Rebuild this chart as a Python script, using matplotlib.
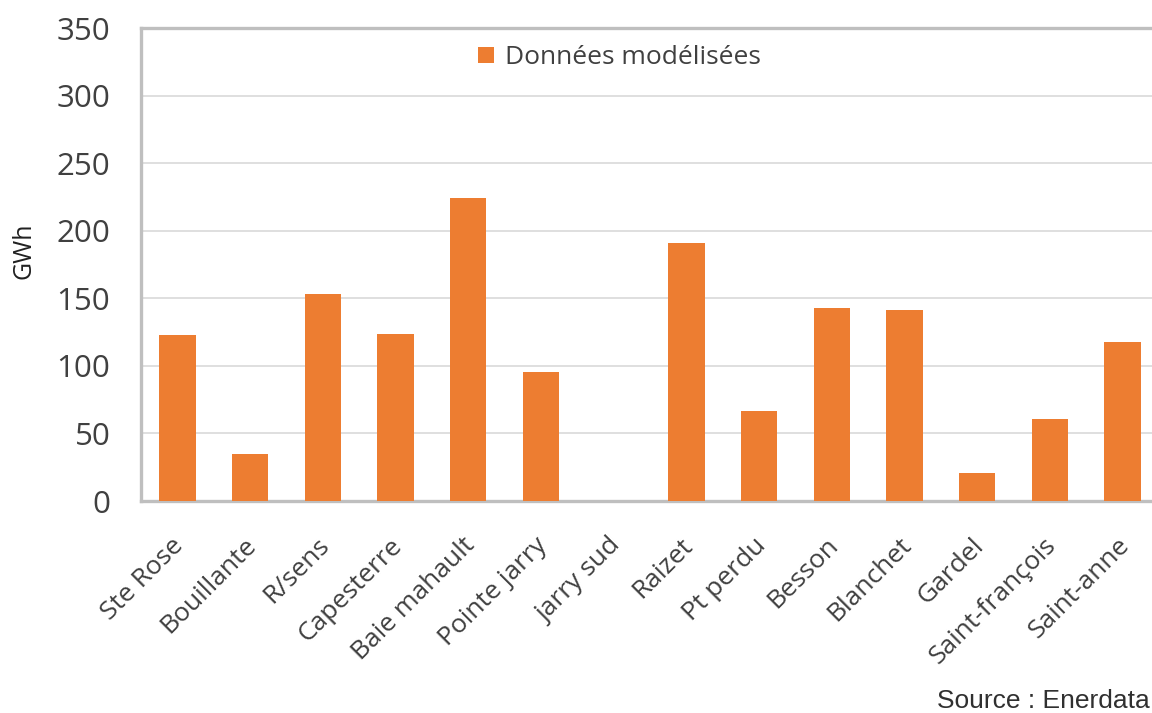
import matplotlib.pyplot as plt
import matplotlib.transforms as mtransforms
import numpy as np

# Consommation modélisée par poste (GWh)
postes = ["Ste Rose", "Bouillante", "R/sens", "Capesterre", "Baie mahault",
          "Pointe jarry", "jarry sud", "Raizet", "Pt perdu", "Besson",
          "Blanchet", "Gardel", "Saint-françois", "Saint-anne"]
gwh = [122.5, 34.5, 153.5, 123.5, 224.5, 95.5, 0, 191, 66.5, 142.5,
       141.5, 20.5, 61, 117.5]
yticks = [0, 50, 100, 150, 200, 250, 300, 350]

ORANGE = "#ED7D31"
GRID = "#D9D9D9"
SPINE = "#BFBFBF"
TEXT = "#404040"

plt.rcParams['font.family'] = ['Open Sans', 'DejaVu Sans']

fig = plt.figure(figsize=(11.52, 7.13), dpi=100)
ax = fig.add_axes([0.1224, 0.2973, 0.8837, 0.6634])

x = np.arange(len(postes))
ax.bar(x, gwh, width=0.5, color=ORANGE, label="Données modélisées", zorder=3)

ax.set_xlim(-0.5, len(postes) - 0.5)
ax.set_ylim(0, 350)
ax.set_yticks(yticks)
ax.set_yticklabels([str(v) for v in yticks], fontsize=22.5, color=TEXT)
ax.set_xticks(x)
ax.set_xticklabels(postes, rotation=45, ha='right', va='top',
                   rotation_mode='anchor', fontsize=19, color=TEXT)
ax.tick_params(axis='both', length=0)
ax.tick_params(axis='y', pad=22)
ax.tick_params(axis='x', pad=23)

# libellés légèrement décalés vers la gauche
shift = mtransforms.ScaledTranslation(-6 / 100, 0, fig.dpi_scale_trans)
for lbl in ax.get_xticklabels():
    lbl.set_transform(lbl.get_transform() + shift)

ax.grid(axis='y', color=GRID, linewidth=1.2, zorder=0)
for side in ('left', 'bottom', 'top'):
    ax.spines[side].set_color(SPINE)
    ax.spines[side].set_linewidth(2.4)
ax.spines['right'].set_visible(False)

# titre de l'axe vertical
fig.text(0.021, 0.649, "GWh", rotation=90, ha='center', va='center',
         fontsize=18, color="#202020")

leg = ax.legend(loc='center', bbox_to_anchor=(0.47, 0.937), frameon=False,
                fontsize=19, handlelength=0.6, handleheight=0.6,
                handletextpad=0.4)
for t in leg.get_texts():
    t.set_color(TEXT)

fig.text(0.998, 0.0, "Source : Enerdata", ha='right', va='bottom',
         fontsize=19, color="#303030", family=['Liberation Sans', 'DejaVu Sans'])

fig.savefig("out.png", dpi=100)
